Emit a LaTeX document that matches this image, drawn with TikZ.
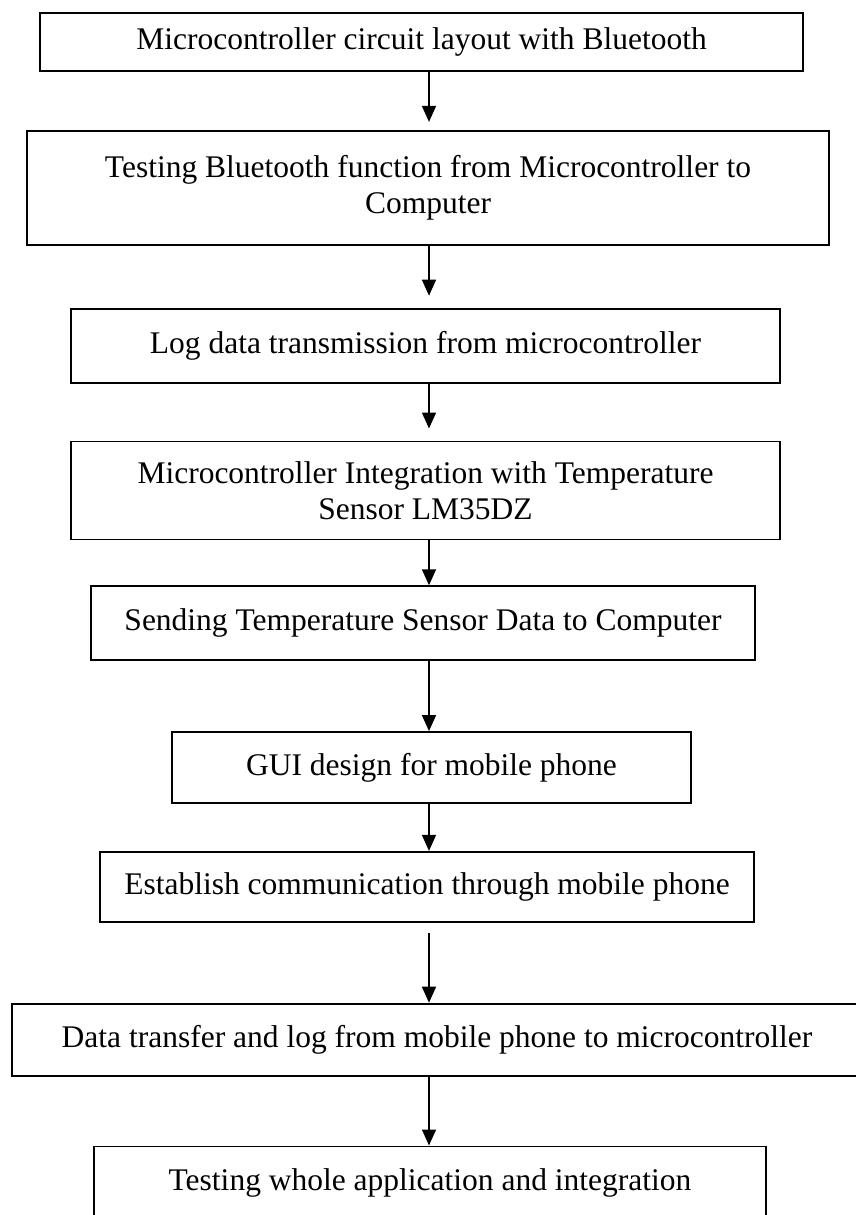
\documentclass[tikz,border=0pt]{standalone}
\usepackage{fontspec}
\setmainfont{Liberation Serif}
\usetikzlibrary{positioning,arrows.meta}

\tikzset{
	stepbox/.style={draw, line width=1.8pt, inner sep=0pt, align=center,
		font=\fontsize{31.5pt}{36pt}\selectfont},
	flow/.style={line width=1.5pt, -{Triangle[length=16pt,width=14pt]}}
}

\begin{document}
\begin{tikzpicture}
		\useasboundingbox (0,0) rectangle (856pt,-1215pt);
		\coordinate (axis) at (429pt,0);

		\node [stepbox, minimum width=763pt, minimum height=58pt] (b1) at (421.5pt,-42pt) {Microcontroller circuit layout with Bluetooth};
		\node [stepbox, minimum width=802pt, minimum height=114pt, below=58pt of b1, xshift=6.5pt] (b2) {Testing Bluetooth function from Microcontroller to\\Computer};
		\node [stepbox, minimum width=709pt, minimum height=74pt, below=62pt of b2, xshift=-2.5pt] (b3) {Log data transmission from microcontroller};
		\node [stepbox, minimum width=709pt, minimum height=98pt, below=57pt of b3] (b4) {Microcontroller Integration with Temperature\\Sensor LM35DZ};
		\node [stepbox, minimum width=664pt, minimum height=74pt, below=45pt of b4, xshift=-2.5pt] (b5) {Sending Temperature Sensor Data to Computer};
		\node [stepbox, minimum width=519pt, minimum height=71pt, below=70pt of b5, xshift=8.5pt] (b6) {GUI design for mobile phone};
		\node [stepbox, minimum width=654pt, minimum height=70pt, below=47pt of b6, xshift=-4.5pt] (b7) {Establish communication through mobile phone};
		\node [stepbox, minimum width=850pt, minimum height=72pt, below=80pt of b7, xshift=10pt] (b8) {Data transfer and log from mobile phone to microcontroller};
		\node [stepbox, minimum width=672pt, minimum height=74pt, below=69pt of b8, xshift=-7pt] (b9) {Testing whole application and integration};

		\draw [flow, shorten >=8pt] (b1.south -| axis) -- (b2.north -| axis);
		\draw [flow, shorten >=12pt] (b2.south -| axis) -- (b3.north -| axis);
		\draw [flow, shorten >=12pt] (b3.south -| axis) -- (b4.north -| axis);
		\draw [flow] (b4.south -| axis) -- (b5.north -| axis);
		\draw [flow] (b5.south -| axis) -- (b6.north -| axis);
		\draw [flow] (b6.south -| axis) -- (b7.north -| axis);
		\draw [flow, shorten <=10pt] (b7.south -| axis) -- (b8.north -| axis);
		\draw [flow] (b8.south -| axis) -- (b9.north -| axis);
	\end{tikzpicture}
\end{document}
